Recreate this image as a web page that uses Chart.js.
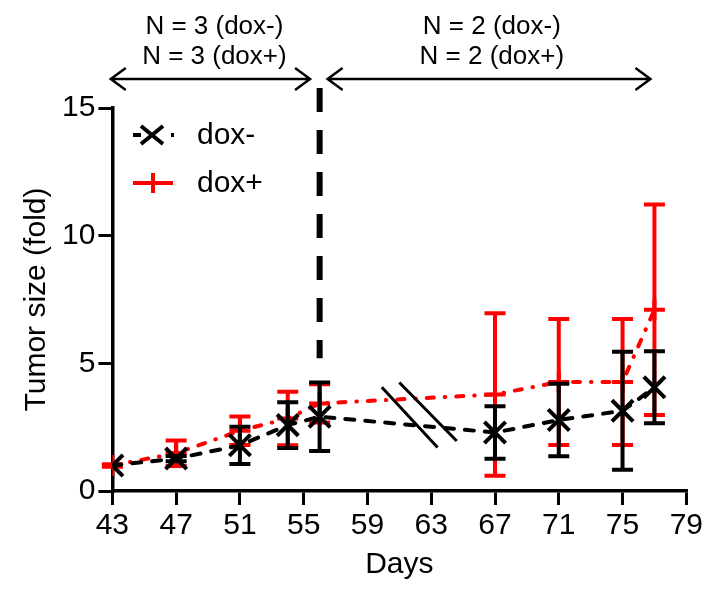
<!DOCTYPE html>
<html>
<head>
<meta charset="utf-8">
<script src="https://cdn.jsdelivr.net/npm/chart.js@4/dist/chart.umd.min.js"></script>
<style>
  body { margin: 0; background: #fff; }
  canvas { display: block; }
</style>
</head>
<body>
<canvas id="tumorChart" width="706" height="591"></canvas>
<script>
// data
const days = [43, 47, 51, 54, 56, 67, 71, 75, 77];
const doxNeg = [1.0, 1.27, 1.79, 2.58, 2.91, 2.29, 2.78, 3.14, 4.06];
const doxNegErr = [0.0, 0.1, 0.73, 0.9, 1.34, 1.03, 1.42, 2.31, 1.41];
const doxPos = [1.0, 1.48, 2.36, 2.84, 3.43, 3.78, 4.27, 4.27, 7.1];
const doxPosErr = [0.05, 0.5, 0.56, 1.05, 0.75, 3.18, 2.47, 2.47, 4.12];
const xTickValues = [43, 47, 51, 55, 59, 63, 67, 71, 75, 79];
const yTickValues = [0, 5, 10, 15];
const groupLabels = [
    ["N = 3 (dox-)", "N = 3 (dox+)"],
    ["N = 2 (dox-)", "N = 2 (dox+)"]
];
const groupSplitDay = 56;

const FONT = "'Liberation Sans', Arial, sans-serif";
const errors = [doxNegErr, doxPosErr];

// error bars, drawn just under each dataset's line/markers
const errorBars = {
    id: "errorBars",
    beforeDatasetDraw(chart, args) {
        const ctx = chart.ctx;
        const x = chart.scales.x, y = chart.scales.y;
        const ds = chart.data.datasets[args.index];
        const err = errors[args.index];
        ctx.save();
        ctx.strokeStyle = ds.borderColor;
        ctx.lineWidth = 4;
        ctx.setLineDash([]);
        ds.data.forEach((p, i) => {
            if (!err[i]) return;
            const px = x.getPixelForValue(p.x);
            const top = y.getPixelForValue(p.y + err[i]);
            const bot = y.getPixelForValue(p.y - err[i]);
            ctx.beginPath();
            ctx.moveTo(px, top); ctx.lineTo(px, bot);
            ctx.moveTo(px - 10.5, top); ctx.lineTo(px + 10.5, top);
            ctx.moveTo(px - 10.5, bot); ctx.lineTo(px + 10.5, bot);
            ctx.stroke();
        });
        ctx.restore();
    }
};

// group arrows, split line, axis break and legend
const extras = {
    id: "extras",
    afterDraw(chart) {
        const ctx = chart.ctx;
        const x = chart.scales.x, y = chart.scales.y;
        const area = chart.chartArea;
        ctx.save();

        // dashed separator
        const sx = x.getPixelForValue(groupSplitDay);
        ctx.strokeStyle = "#000";
        ctx.lineWidth = 6;
        ctx.setLineDash([24, 18]);
        ctx.beginPath();
        ctx.moveTo(sx, area.top - 20);
        ctx.lineTo(sx, y.getPixelForValue(5.2));
        ctx.stroke();
        ctx.setLineDash([]);

        // double headed arrows
        const ay = 79;
        const arrow = (x1, x2) => {
            ctx.lineWidth = 2.5;
            ctx.beginPath();
            ctx.moveTo(x1, ay); ctx.lineTo(x2, ay);
            ctx.moveTo(x1 + 15, ay - 11); ctx.lineTo(x1, ay); ctx.lineTo(x1 + 15, ay + 11);
            ctx.moveTo(x2 - 15, ay - 11); ctx.lineTo(x2, ay); ctx.lineTo(x2 - 15, ay + 11);
            ctx.stroke();
        };
        arrow(x.getPixelForValue(42.9), x.getPixelForValue(55.4));
        arrow(x.getPixelForValue(56.5), x.getPixelForValue(76.75));

        ctx.fillStyle = "#000";
        ctx.font = "26px " + FONT;
        ctx.textAlign = "center";
        ctx.textBaseline = "alphabetic";
        const centers = [x.getPixelForValue(49.4), x.getPixelForValue(66.8)];
        groupLabels.forEach((lines, g) => {
            ctx.fillText(lines[0], centers[g], 34);
            ctx.fillText(lines[1], centers[g], 64);
        });

        // axis break marks
        ctx.lineWidth = 3;
        ctx.beginPath();
        ctx.moveTo(x.getPixelForValue(59.9), y.getPixelForValue(4.06));
        ctx.lineTo(x.getPixelForValue(63.4), y.getPixelForValue(1.7));
        ctx.moveTo(x.getPixelForValue(61.0), y.getPixelForValue(4.25));
        ctx.lineTo(x.getPixelForValue(64.6), y.getPixelForValue(1.96));
        ctx.stroke();

        // legend
        const lx = 152;
        chart.data.datasets.forEach((ds, i) => {
            const ly = 135 + i * 48;
            ctx.strokeStyle = ds.borderColor;
            ctx.lineWidth = 4;
            ctx.beginPath();
            if (i === 0) {
                ctx.moveTo(lx - 19, ly); ctx.lineTo(lx - 11, ly);
                ctx.moveTo(lx - 11, ly - 9); ctx.lineTo(lx + 11, ly + 9);
                ctx.moveTo(lx - 11, ly + 9); ctx.lineTo(lx + 11, ly - 9);
                ctx.moveTo(lx + 19, ly); ctx.lineTo(lx + 22, ly);
            } else {
                ctx.moveTo(lx - 19, ly); ctx.lineTo(lx + 21, ly);
                ctx.moveTo(lx + 1, ly - 10); ctx.lineTo(lx + 1, ly + 10);
            }
            ctx.stroke();
            ctx.fillStyle = "#000";
            ctx.font = "30px " + FONT;
            ctx.textAlign = "left";
            ctx.textBaseline = "middle";
            ctx.fillText(ds.label, 197, ly + 1);
        });
        ctx.restore();
    }
};

const pts = vals => days.map((d, i) => ({ x: d, y: vals[i] }));

const axisCommon = {
    type: "linear",
    grid: { drawOnChartArea: false, color: "#000", lineWidth: 3, tickLength: 14 },
    border: { color: "#000", width: 3.5 },
    ticks: { color: "#000", font: { size: 30, family: FONT }, padding: 3, autoSkip: false, maxRotation: 0 }
};

new Chart(document.getElementById("tumorChart"), {
    type: "line",
    data: {
        datasets: [{
            label: "dox-",
            data: pts(doxNeg),
            borderColor: "#000",
            borderWidth: 4,
            borderCapStyle: "round",
            borderDash: [9, 11],
            pointStyle: "crossRot",
            pointRadius: 15,
            pointBorderWidth: 4,
            pointBorderColor: "#000",
            fill: false,
            tension: 0
        }, {
            label: "dox+",
            data: pts(doxPos),
            borderColor: "#ff0000",
            borderWidth: 4,
            borderCapStyle: "round",
            borderDash: [7, 11, 0.5, 11],
            pointStyle: "cross",
            pointRadius: 10.5,
            pointBorderWidth: 4,
            pointBorderColor: "#ff0000",
            fill: false,
            tension: 0
        }]
    },
    options: {
        responsive: false,
        devicePixelRatio: 1,
        animation: false,
        layout: { padding: { top: 108, left: 19, right: 18, bottom: 8 } },
        plugins: { legend: { display: false }, tooltip: { enabled: false } },
        scales: {
            x: {
                ...axisCommon,
                min: 43, max: 79,
                afterBuildTicks: s => { s.ticks = xTickValues.map(v => ({ value: v })); },
                title: { display: true, text: "Days", color: "#000", font: { size: 30, family: FONT }, padding: { top: 0, bottom: 0 } }
            },
            y: {
                ...axisCommon,
                min: 0, max: 15,
                afterBuildTicks: s => { s.ticks = yTickValues.map(v => ({ value: v })); },
                title: { display: true, text: "Tumor size (fold)", color: "#000", font: { size: 30, family: FONT }, padding: { top: 0, bottom: 4 } }
            }
        }
    },
    plugins: [errorBars, extras]
});
</script>
</body>
</html>
